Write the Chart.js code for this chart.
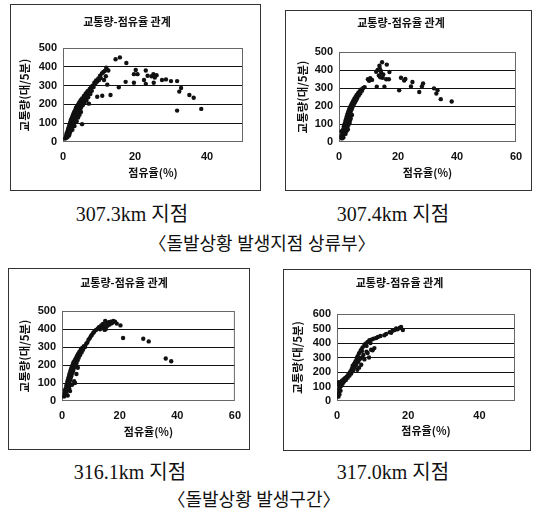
<!DOCTYPE html>
<html>
<head>
<meta charset="utf-8">
<script src="https://cdn.jsdelivr.net/npm/chart.js@4.4.0/dist/chart.umd.min.js"></script>
<style>
body{margin:0;background:#fff;width:536px;height:516px;position:relative;overflow:hidden;}
.box{position:absolute;border:1px solid #333;box-sizing:border-box;background:#fff;}
.box canvas{display:block;}
.cap{position:absolute;font-family:"Liberation Serif","Noto Sans CJK KR",serif;color:#111;text-align:center;white-space:nowrap;}
</style>
</head>
<body>
<div class="box" style="left:10px;top:4px;width:251px;height:187px"><canvas id="c1"></canvas></div>
<div class="box" style="left:285px;top:10px;width:247px;height:181px"><canvas id="c2"></canvas></div>
<div class="box" style="left:8px;top:268px;width:242px;height:182px"><canvas id="c3"></canvas></div>
<div class="box" style="left:283px;top:269px;width:248px;height:182px"><canvas id="c4"></canvas></div>

<div class="cap" style="left:32px;top:202px;width:200px;font-size:20px;line-height:24px">307.3km 지점</div>
<div class="cap" style="left:293px;top:202px;width:200px;font-size:20px;line-height:24px">307.4km 지점</div>
<div class="cap" style="left:112px;top:233px;width:300px;font-size:18px;line-height:22px">〈돌발상황 발생지점 상류부〉</div>
<div class="cap" style="left:30px;top:460px;width:200px;font-size:20px;line-height:24px">316.1km 지점</div>
<div class="cap" style="left:293px;top:460px;width:200px;font-size:20px;line-height:24px">317.0km 지점</div>
<div class="cap" style="left:104px;top:489px;width:300px;font-size:18px;line-height:22px">〈돌발상황 발생구간〉</div>

<script>
//chart texts
const chartTitle = "교통량-점유율 관계"
const xTitle = "점유율(%)"
const yTitle = "교통량(대/5분)"

//307.3km : occupancy (%) and volume (veh/5min)
const occ1 = [0.6,0.8,0.9,1.0,1.0,1.1,1.2,1.2,1.3,1.4, 1.4,1.5,1.5,1.6,1.7,1.7,1.8,1.9,1.9,2.0,
  2.0,2.1,2.2,2.2,2.3,2.4,2.5,2.5,2.6,2.7, 2.8,2.8,2.9,3.0,3.0,3.1,3.2,3.3,3.4,3.5,
  3.5,3.6,3.7,3.8,3.9,4.0,4.1,4.2,4.3,4.4, 4.5,4.6,4.8,4.9,5.0,5.2,5.3,5.5,5.6,5.8,
  6.0,6.1,6.3,6.5,6.7,6.8,7.0,7.2,7.4,7.6, 7.8,8.0,8.2,8.5,8.7,9.0,9.2,9.5,9.8,10.0,
  10.3,10.8,11.2,11.6,12.2,12.6, 3.2,3.8,4.2,2.6,4.6,5.0,
  5.3,7.2,14.6,15.8,17.6,20.2,19.7,20.7,23.0,23.5, 25.1,25.5,24.6,17.4,19.7,23.0,25.2,28.6,30.0,31.7,
  32.8,32.3,35.1,36.3,31.7,38.4,15.5,9.5,10.9,13.2, 12.3,10.5,11.4,11.9,12.0,26.0,27.5,22.5]
const vol1 = [18,25,35,22,45,30,55,38,28,48, 65,40,75,55,85,35,62,95,48,72,
  105,58,88,118,70,100,130,82,112,140, 95,125,150,108,138,160,120,148,170,130,
  158,182,142,168,192,150,178,200,160,188, 210,172,198,222,182,210,232,195,220,245,
  208,235,258,222,250,270,238,262,282,255, 290,272,300,292,315,310,328,322,338,330,
  352,365,372,378,385,380, 85,110,130,65,145,160,
  95,204,440,450,420,383,361,361,380,352, 361,343,350,320,315,309,315,333,324,324,
  287,268,250,235,167,176,291,241,246,250, 305,340,330,350,395,355,330,330]

//307.4km
const occ2 = [0.8,1.0,1.0,1.2,1.3,1.4,1.5,1.6,1.7,1.8, 1.9,2.0,2.1,2.2,2.3,2.4,2.5,2.6,2.7,2.8,
  2.9,3.0,3.1,3.2,3.3,3.4,3.5,3.6,3.8,3.9, 4.0,4.2,4.3,4.5,4.6,4.8,5.0,5.2,5.4,5.6,
  5.8,6.0,6.2,6.5,6.7,7.0,7.2,7.5,7.8,8.2, 8.7,2.5,3.2,1.5,1.1,2.0,3.7,4.4,2.8,0.9,
  3.0,3.6,4.0,2.2,
  9.8,10.6,10.2,11.2,12.6,13.1,13.7,14.6,16.2,14.3, 14.8,16.0,13.5,17.1,16.9,12.8,15.4,14.0,15.0,21.0,
  22.1,22.5,24.9,24.4,20.4,27.2,28.1,28.5,32.2,33.4, 33.0,34.5,38.2,13.8,14.2]
const vol2 = [28,40,20,55,30,70,45,85,55,95, 68,105,78,118,90,128,100,140,110,150,
  120,160,130,170,140,178,150,188,162,198, 172,208,182,218,195,228,208,240,220,250,
  232,262,245,272,258,282,270,292,285,300, 305,60,95,25,35,50,120,150,80,60,
  70,105,130,45,
  349,355,340,345,390,400,424,443,430,384, 357,349,370,389,349,307,307,360,375,357,
  342,350,333,309,287,278,309,325,298,287, 269,238,225,410,395]

//316.1km
const occ3 = [0.7,0.9,1.0,1.1,1.2,1.3,1.4,1.5,1.6,1.7, 1.8,1.9,2.0,2.1,2.2,2.3,2.4,2.5,2.6,2.7,
  2.8,2.9,3.0,3.1,3.2,3.3,3.4,3.5,3.6,3.8, 3.9,4.0,4.2,4.4,4.5,4.6,4.8,5.0,5.2,5.4,
  5.6,5.8,6.0,6.3,6.5,6.8,7.0,7.3,7.6,8.0, 8.4,8.8,9.2,9.6,10.0,10.4,10.8,11.2,11.8,12.4,
  12.8,13.2,13.6,14.0,14.2,14.6,15.0,15.2,15.5,15.8, 16.2,16.5,16.9,17.3,17.8,18.4,19.0,20.3,14.8,3.5,
  4.2,2.0,1.0,1.5,2.5,3.0, 2.8,5.0,5.5,
  21.2,28.2,30.1,36.0,37.9]
const vol3 = [25,40,30,55,35,70,45,85,55,95, 65,110,75,120,88,132,98,145,108,155,
  118,165,128,175,138,185,150,195,160,205, 170,215,185,225,100,198,238,210,250,225,
  262,240,272,255,285,270,295,285,305,300, 318,325,340,348,360,368,378,385,395,402,
  410,398,420,405,428,412,445,400,430,418, 438,425,440,432,445,440,430,420,395,90,
  110,30,60,40,70,90, 55,150,185,
  350,346,331,236,221]

//317.0km
const occ4 = [0.4,0.5,0.6,0.6,0.7,0.8,0.9,1.0,1.1,1.2, 1.4,1.6,1.8,2.0,2.2,2.5,2.8,3.0,3.2,3.5,
  3.8,4.0,4.2,4.4,4.5,4.8,5.0,5.2,5.4,5.6, 5.8,6.0,6.2,6.4,6.6,6.8,7.0,7.2,7.4,7.7,
  8.0,8.3,8.6,9.1,9.6,9.8,10.3,11.0,11.5,12.2, 13.3,13.8,14.8,15.2,15.6,16.2,16.6,17.0,17.6,18.0,
  18.5,8.6,7.7,9.0,10.0,10.5,6.8,6.2,5.7,0.5, 0.9,1.3,2.4,3.6,4.6,5.0,6.0,7.0,8.3,9.4]
const vol4 = [30,55,80,110,45,95,125,70,132,105, 140,120,148,135,155,145,170,160,185,175,
  205,190,225,243,210,255,235,275,250,295, 309,270,330,290,345,353,300,370,318,386,
  395,340,408,419,353,425,430,435,441,448, 453,462,475,470,485,490,500,495,503,510,
  490,331,287,300,350,365,250,230,215,130, 100,115,160,195,230,260,300,345,380,400]

//tick values
const xTicksA = [0,20,40]
const xTicksB = [0,20,40,60]

const sansFont = '"Liberation Sans", Arial, sans-serif'
const krFont = '"Noto Sans CJK KR", sans-serif'

//grey frame around the plot area
const frame = {
    id: 'frame',
    beforeDatasetsDraw(chart) {
        const a = chart.chartArea
        const c = chart.ctx
        c.save()
        c.strokeStyle = '#666'
        c.lineWidth = 1
        c.strokeRect(a.left + 0.5, a.top + 0.5, a.right - a.left - 1, a.bottom - a.top - 1)
        c.restore()
    }
}

//g = geometry of the plot in canvas pixels
function makeChart(id, w, h, occ, vol, xMax, yMax, xTicks, g) {
    const canvas = document.getElementById(id)
    canvas.width = w
    canvas.height = h
    return new Chart(canvas, {
        type: 'scatter',
        data: {
            datasets: [{
                data: occ.map((x, i) => ({x: x, y: vol[i]})),
                backgroundColor: '#111',
                borderWidth: 0,
                pointRadius: 2.2
            }]
        },
        options: {
            responsive: false,
            animation: false,
            layout: {padding: {left: 0, top: 0, right: w - g.right, bottom: 4}},
            plugins: {
                legend: {display: false},
                tooltip: {enabled: false},
                title: {
                    display: true,
                    text: chartTitle,
                    color: '#111',
                    font: {family: krFont, size: 11, weight: 'bold'},
                    padding: {top: g.titleY - 6.6, bottom: g.top - 13.2 - (g.titleY - 6.6)}
                }
            },
            scales: {
                x: {
                    type: 'linear',
                    min: 0,
                    max: xMax,
                    afterBuildTicks: s => { s.ticks = xTicks.map(v => ({value: v})) },
                    afterFit: s => { s.height = h - 4 - g.bottom },
                    grid: {display: false, drawTicks: false},
                    border: {display: false},
                    ticks: {padding: 8, color: '#111', font: {family: sansFont, size: 11, weight: 'bold'}},
                    title: {
                        display: true,
                        text: xTitle,
                        color: '#111',
                        font: {family: krFont, size: 11, weight: 'bold'},
                        padding: {top: 0, bottom: (h - 4) - g.xTitleY - 6.6}
                    }
                },
                y: {
                    min: 0,
                    max: yMax,
                    afterFit: s => { s.width = g.left },
                    grid: {
                        drawTicks: false,
                        color: c => (c.tick.value === 0 || c.tick.value === yMax) ? 'rgba(0,0,0,0)' : '#111'
                    },
                    border: {display: false},
                    ticks: {stepSize: 100, autoSkip: false, padding: 6, color: '#111', font: {family: sansFont, size: 11, weight: 'bold'}},
                    title: {
                        display: true,
                        text: yTitle,
                        color: '#111',
                        font: {family: krFont, size: 11.5, weight: 'bold'},
                        padding: {top: g.yTitleX - 6.9, bottom: 0}
                    }
                }
            }
        },
        plugins: [frame]
    })
}

makeChart('c1', 249, 185, occ1, vol1, 50, 500, xTicksA,
    {left: 52, top: 43, right: 232, bottom: 137, titleY: 17, yTitleX: 14, xTitleY: 168})
makeChart('c2', 245, 179, occ2, vol2, 60, 500, xTicksB,
    {left: 53, top: 41, right: 230, bottom: 131, titleY: 12, yTitleX: 17, xTitleY: 162})
makeChart('c3', 240, 180, occ3, vol3, 60, 500, xTicksB,
    {left: 53, top: 42, right: 230, bottom: 132, titleY: 14, yTitleX: 16, xTitleY: 163})
makeChart('c4', 246, 180, occ4, vol4, 50, 600, xTicksA,
    {left: 53, top: 44, right: 231, bottom: 131, titleY: 13, yTitleX: 14, xTitleY: 161})
</script>
</body>
</html>
